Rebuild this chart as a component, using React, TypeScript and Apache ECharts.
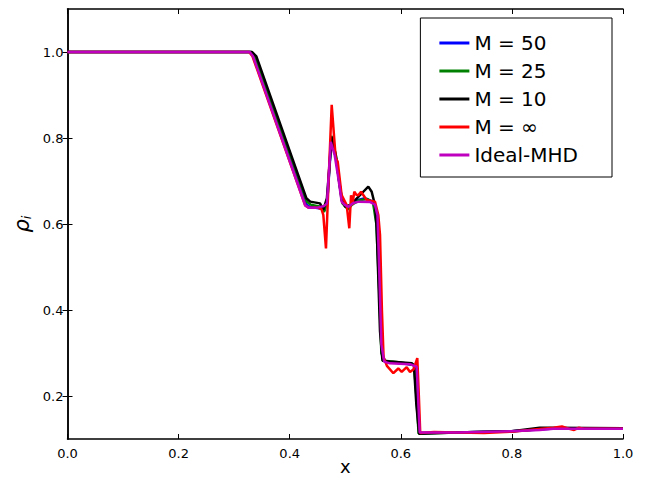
import React, { useEffect, useRef } from "react";
import * as echarts from "echarts";

const seriesNames = ["M = 50", "M = 25", "M = 10", "M = \u221e", "Ideal-MHD"];
const seriesColors = ["#0000ff", "#008000", "#000000", "#ff0000", "#bf00bf"];
const xTicks = [0, 0.2, 0.4, 0.6, 0.8, 1.0];
const yTicks = [0.2, 0.4, 0.6, 0.8, 1.0];

const m50: number[][] = [
  [0, 1.0], [0.329, 1.0], [0.336, 0.99], [0.43, 0.645], [0.436, 0.64], [0.455, 0.636],
  [0.463, 0.632], [0.468, 0.66], [0.475, 0.795], [0.483, 0.755], [0.489, 0.7], [0.495, 0.65],
  [0.503, 0.638], [0.51, 0.645], [0.52, 0.655], [0.535, 0.66], [0.55, 0.652], [0.556, 0.62],
  [0.562, 0.45], [0.566, 0.3], [0.572, 0.279], [0.6, 0.276], [0.625, 0.272], [0.629, 0.2],
  [0.633, 0.114], [0.7, 0.115], [0.8, 0.118], [0.87, 0.124], [1.0, 0.124],
];
const m25: number[][] = [
  [0, 1.0], [0.331, 1.0], [0.338, 0.99], [0.431, 0.652], [0.438, 0.645], [0.455, 0.64],
  [0.462, 0.628], [0.468, 0.66], [0.475, 0.805], [0.483, 0.76], [0.49, 0.69], [0.495, 0.648],
  [0.505, 0.634], [0.512, 0.645], [0.525, 0.655], [0.54, 0.658], [0.55, 0.65], [0.556, 0.6],
  [0.561, 0.45], [0.565, 0.3], [0.57, 0.282], [0.6, 0.278], [0.624, 0.272], [0.628, 0.2],
  [0.632, 0.113], [0.7, 0.115], [0.8, 0.118], [0.86, 0.124], [1.0, 0.124],
];
const m10: number[][] = [
  [0, 1.0], [0.332, 1.0], [0.34, 0.99], [0.43, 0.66], [0.437, 0.652],
  [0.4545, 0.648], [0.4605, 0.633], [0.467, 0.66], [0.4756, 0.803], [0.483, 0.76], [0.49, 0.69],
  [0.4935, 0.656], [0.5, 0.64], [0.51, 0.645], [0.5235, 0.663], [0.5325, 0.675], [0.5415, 0.687],
  [0.5476, 0.675], [0.5535, 0.644], [0.5566, 0.591], [0.5626, 0.35], [0.567, 0.282], [0.58, 0.28],
  [0.62, 0.276], [0.6237, 0.27], [0.628, 0.18], [0.633, 0.112], [0.7, 0.115], [0.8, 0.118],
  [0.85, 0.126], [0.87, 0.126], [1.0, 0.125],
];
const mInf: number[][] = [
  [0, 1.0], [0.327, 1.0], [0.333, 0.99], [0.428, 0.643], [0.434, 0.638], [0.45, 0.638],
  [0.457, 0.635], [0.4605, 0.621], [0.4653, 0.543], [0.47, 0.7], [0.4756, 0.877], [0.4828, 0.753],
  [0.4864, 0.745], [0.4935, 0.667], [0.5026, 0.644], [0.5073, 0.59], [0.5104, 0.667], [0.5127, 0.644],
  [0.5163, 0.675], [0.52, 0.668], [0.5235, 0.667], [0.5284, 0.675], [0.5386, 0.656], [0.5535, 0.652],
  [0.5595, 0.621], [0.5626, 0.574], [0.566, 0.4], [0.569, 0.29], [0.575, 0.27], [0.5866, 0.253],
  [0.5955, 0.264], [0.6016, 0.256], [0.6106, 0.267], [0.6166, 0.256], [0.623, 0.262], [0.6297, 0.288],
  [0.6325, 0.2], [0.635, 0.114], [0.66, 0.116], [0.7, 0.115], [0.75, 0.114], [0.8, 0.117],
  [0.85, 0.123], [0.875, 0.126], [0.89, 0.129], [0.905, 0.123], [0.912, 0.121], [0.92, 0.126],
  [0.93, 0.124], [1.0, 0.124],
];
const ideal: number[][] = [
  [0, 1.0], [0.328, 1.0], [0.334, 0.99], [0.428, 0.643], [0.434, 0.638], [0.45, 0.638],
  [0.462, 0.642], [0.467, 0.648], [0.474, 0.791], [0.481, 0.76], [0.4875, 0.707], [0.4935, 0.652],
  [0.4985, 0.645], [0.5055, 0.64], [0.5145, 0.649], [0.525, 0.652], [0.545, 0.651], [0.5535, 0.645],
  [0.558, 0.62], [0.561, 0.5], [0.565, 0.32], [0.57, 0.28], [0.58, 0.276], [0.6166, 0.274],
  [0.6286, 0.268], [0.631, 0.2], [0.634, 0.115], [0.65, 0.115], [0.7, 0.115], [0.797, 0.118],
  [0.85, 0.121], [0.8745, 0.124], [1.0, 0.124],
];
const allData = [m50, m25, m10, mInf, ideal];

const FONT = "DejaVu Sans";

export default function App() {
  const ref = useRef<HTMLDivElement>(null);
  useEffect(() => {
    if (!ref.current) return;
    const chart = echarts.init(ref.current, undefined, { renderer: "svg" });
    const axisLine = { show: true, lineStyle: { color: "#000", width: 1.5 } };
    const tickStyle = { show: true, inside: true, length: 5, lineStyle: { color: "#000", width: 1 } };
    chart.setOption({
      animation: false,
      backgroundColor: "#fff",
      grid: { left: 67.5, right: 27, top: 9, bottom: 38, containLabel: false, outerBoundsMode: "none" },
      legend: {
        orient: "vertical",
        right: 38,
        top: 18,
        data: seriesNames,
        icon: "rect",
        backgroundColor: "#fff",
        borderColor: "#000",
        borderWidth: 1,
        borderRadius: 0,
        padding: [15, 34, 12, 19],
        itemWidth: 30,
        itemHeight: 3,
        itemGap: 8,
        textStyle: { fontFamily: FONT, fontSize: 20, lineHeight: 20, color: "#000" },
      },
      xAxis: [
        {
          type: "value",
          min: 0,
          max: 1,
          interval: 0.2,
          name: "x",
          nameLocation: "middle",
          nameGap: 18,
          nameMoveOverlap: false,
          nameTextStyle: { fontFamily: FONT, fontSize: 18, lineHeight: 18, color: "#000" },
          axisLine,
          axisTick: tickStyle,
          splitLine: { show: false },
          axisLabel: {
            fontFamily: FONT,
            fontSize: 13,
            color: "#000",
            margin: 8,
            formatter: (v: number) => v.toFixed(1),
            customValues: xTicks,
          },
        },
        {
          type: "value",
          position: "top",
          min: 0,
          max: 1,
          interval: 0.2,
          axisLine,
          axisTick: tickStyle,
          axisLabel: { show: false },
          splitLine: { show: false },
        },
      ],
      yAxis: [
        {
          type: "value",
          min: 0.1,
          max: 1.1,
          name: "{a|\u03c1}{b|i}",
          nameLocation: "middle",
          nameRotate: 90,
          nameGap: 35,
          nameMoveOverlap: false,
          nameTextStyle: {
            rich: {
              a: { fontFamily: FONT, fontSize: 21, fontStyle: "italic", color: "#000", lineHeight: 22 },
              b: { fontFamily: FONT, fontSize: 13, fontStyle: "italic", color: "#000", verticalAlign: "bottom", lineHeight: 22, padding: [8, 0, 0, 0] },
            },
          },
          axisLine,
          axisTick: { ...tickStyle, customValues: yTicks },
          splitLine: { show: false },
          axisLabel: {
            fontFamily: FONT,
            fontSize: 13,
            color: "#000",
            margin: 4,
            formatter: (v: number) => v.toFixed(1),
            customValues: yTicks,
          },
        },
        {
          type: "value",
          position: "right",
          min: 0.1,
          max: 1.1,
          axisLine,
          axisTick: { ...tickStyle, customValues: yTicks },
          axisLabel: { show: false },
          splitLine: { show: false },
        },
      ],
      series: seriesNames.map((name, i) => ({
        name,
        type: "line",
        data: allData[i],
        symbol: "none",
        showSymbol: false,
        xAxisIndex: 0,
        yAxisIndex: 0,
        z: 2 + i,
        lineStyle: { color: seriesColors[i], width: 2.5 },
        itemStyle: { color: seriesColors[i] },
      })),
    });
    return () => chart.dispose();
  }, []);
  return (
    <div
      ref={ref}
      style={{ position: "fixed", left: 0, top: 0, width: 650, height: 477 }}
    />
  );
}
